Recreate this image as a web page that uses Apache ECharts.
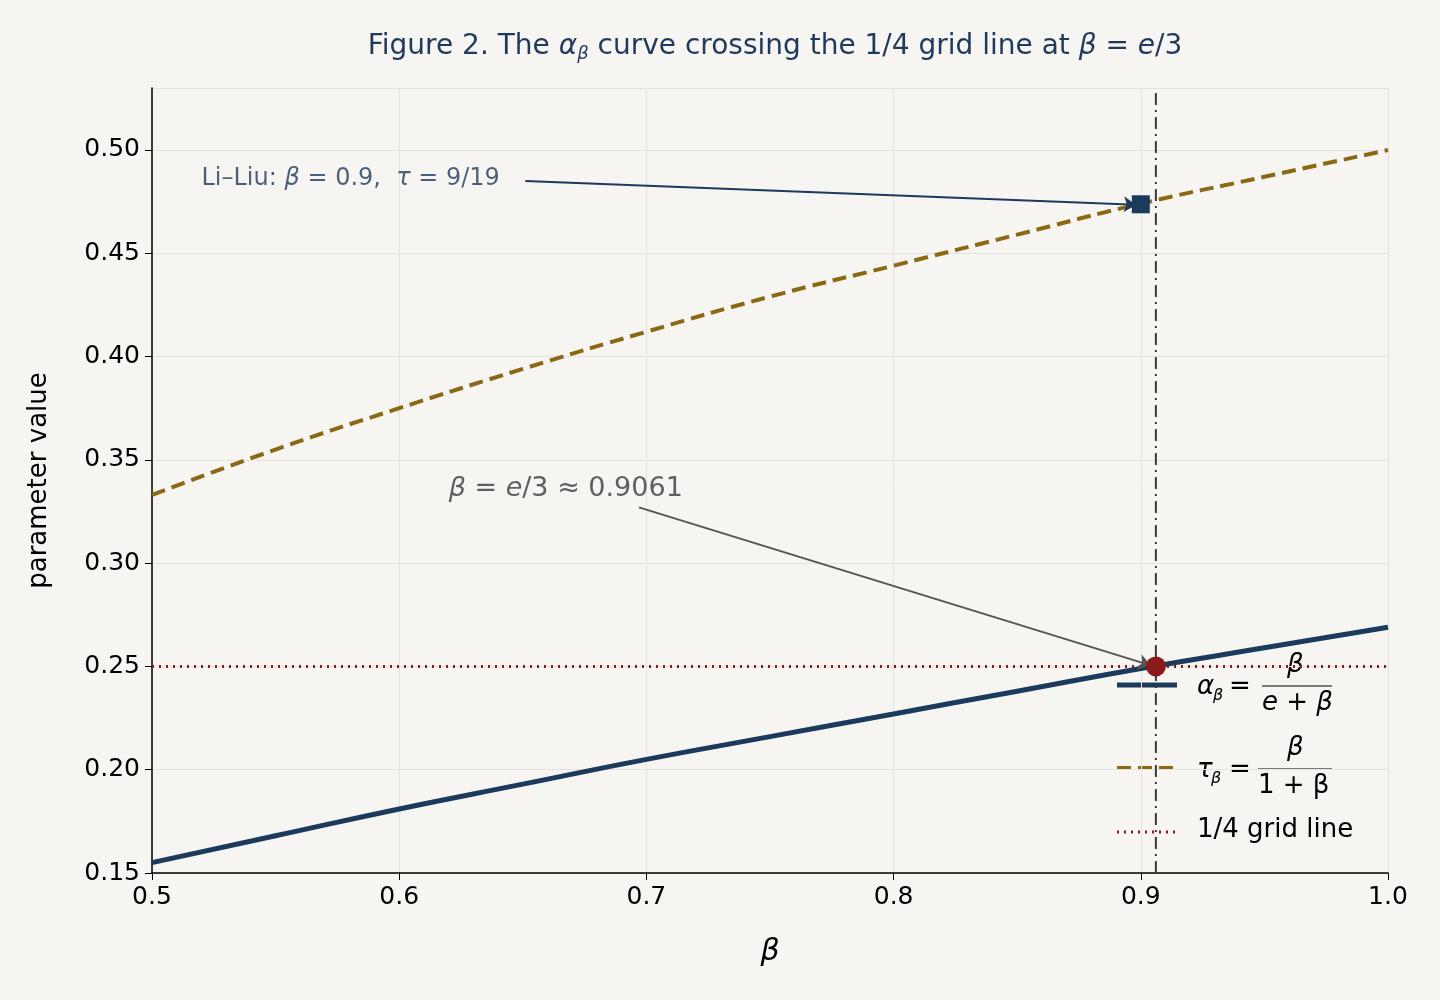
<!DOCTYPE html>
<html><head><meta charset="utf-8">
<script src="https://cdn.jsdelivr.net/npm/echarts@6/dist/echarts.min.js"></script>
<style>html,body{margin:0;background:#f6f5f2}#c{width:1440px;height:1000px}</style>
</head><body><div id="c"></div>
<script>
const betaValues = [0.5,0.55,0.6,0.65,0.7,0.75,0.8,0.85,0.9,0.95,1.0];
const alphaValues = [0.155,0.168,0.181,0.193,0.205,0.216,0.227,0.238,0.249,0.259,0.269];
const tauValues = [0.333,0.355,0.375,0.394,0.412,0.429,0.444,0.459,0.474,0.487,0.500];
const gridLineValue = 0.25;
const crossBeta = 0.9061;
const liLiuPoint = [0.9, 0.4737];
const crossPoint = [0.9061, 0.25];
const liLiuText = [0.52, 0.486];
const crossText = [0.62, 0.336];
const liLiuArrow = [[0.651, 0.485],[0.898, 0.4735]];
const crossArrow = [[0.697, 0.327],[0.904, 0.2505]];
const vLineY = [0.15, 0.53];

const NAVY='#1b3a5c', GOLD='#8b6914', RED='#8b1a1a', F='DejaVu Sans';
const ch = echarts.init(document.getElementById('c'));
ch.setOption({
  backgroundColor:'#f6f5f2',
  animation:false,
  title:{text:'Figure 2. The {i|α}{s|β} curve crossing the 1/4 grid line at {i|β} = {i|e}/3',left:770,top:26,textAlign:'center',
    textStyle:{fontFamily:F,fontSize:28,fontWeight:'normal',color:'#1f3a5a',
      rich:{i:{fontFamily:F,fontStyle:'italic',fontSize:28,color:'#1f3a5a'},s:{fontFamily:F,fontStyle:'italic',fontSize:18,color:'#1f3a5a',verticalAlign:'bottom',padding:[14,0,0,0]}}}},
  grid:{left:152,right:52,top:88,bottom:127},
  xAxis:{type:'value',min:0.5,max:1.0,interval:0.1,name:'β',nameLocation:'middle',nameGap:64,
    nameTextStyle:{fontFamily:F,fontStyle:'italic',fontSize:30,color:'#000'},
    axisLine:{lineStyle:{color:'#000',width:1.5}},axisTick:{length:7,lineStyle:{color:'#000'}},
    axisLabel:{fontFamily:F,fontSize:25,color:'#000',margin:12,formatter:v=>v.toFixed(1)},
    splitLine:{show:true,lineStyle:{color:'#e4e2de',width:1}}},
  yAxis:{type:'value',min:0.15,max:0.53,interval:0.05,name:'parameter value',nameLocation:'middle',nameGap:100,
    nameTextStyle:{fontFamily:F,fontSize:26,color:'#000'},
    axisLine:{show:true,lineStyle:{color:'#000',width:1.5}},axisTick:{show:true,length:7,lineStyle:{color:'#000'}},
    axisLabel:{fontFamily:F,fontSize:25,color:'#000',margin:12,showMaxLabel:false,formatter:v=>v.toFixed(2)},
    splitLine:{show:true,lineStyle:{color:'#e4e2de',width:1}}},
  series:[
    {type:'line',data:betaValues.map(b=>[b,gridLineValue]),symbol:'none',lineStyle:{color:RED,width:3,type:[2,5]},z:2},
    {type:'line',data:vLineY.map(y=>[crossBeta,y]),symbol:'none',lineStyle:{color:'#3a3a3a',width:2,type:[12,5,2,5]},z:2},
    {type:'line',data:betaValues.map((b,i)=>[b,tauValues[i]]),symbol:'none',smooth:true,lineStyle:{color:GOLD,width:4,type:[14,7]},z:3},
    {type:'line',data:betaValues.map((b,i)=>[b,alphaValues[i]]),symbol:'none',smooth:true,lineStyle:{color:NAVY,width:5},z:3},
    {type:'lines',coordinateSystem:'cartesian2d',z:4,symbol:['none','arrow'],symbolSize:12,
      data:[{coords:liLiuArrow,lineStyle:{color:NAVY,width:2,opacity:1}},{coords:crossArrow,lineStyle:{color:'#555',width:2,opacity:1}}]},
    {type:'scatter',data:[liLiuPoint],symbol:'rect',symbolSize:18,itemStyle:{color:NAVY,opacity:1},z:5},
    {type:'scatter',data:[crossPoint],symbol:'circle',symbolSize:20,itemStyle:{color:RED,opacity:1},z:5},
    {type:'scatter',symbolSize:0,z:6,data:[
      {value:liLiuText,label:{show:true,position:'right',distance:0,fontFamily:F,fontSize:24,color:'#1f3a5a',
        formatter:'Li–Liu: {i|β} = 0.9,  {i|τ} = 9/19',rich:{i:{fontFamily:F,fontStyle:'italic',fontSize:24,color:'#1f3a5a'}}}},
      {value:crossText,label:{show:true,position:'right',distance:0,fontFamily:F,fontSize:27,color:'#3a3a3a',
        formatter:'{i|β} = {i|e}/3 ≈ 0.9061',rich:{i:{fontFamily:F,fontStyle:'italic',fontSize:27,color:'#3a3a3a'}}}}
    ]}
  ],
  graphic:[
    {type:'line',shape:{x1:1117,y1:685,x2:1177,y2:685},style:{stroke:NAVY,lineWidth:5}},
    {type:'text',x:1197,y:674,style:{text:'α',font:'italic 26px DejaVu Sans',fill:'#000'}},
    {type:'text',x:1213,y:688,style:{text:'β',font:'italic 16px DejaVu Sans',fill:'#000'}},
    {type:'text',x:1229,y:674,style:{text:'=',font:'26px DejaVu Sans',fill:'#000'}},
    {type:'text',x:1287,y:652,style:{text:'β',font:'italic 26px DejaVu Sans',fill:'#000'}},
    {type:'line',shape:{x1:1262,y1:686,x2:1332,y2:686},style:{stroke:'#000',lineWidth:1.2}},
    {type:'text',x:1262,y:690,style:{text:'e + β',font:'italic 26px DejaVu Sans',fill:'#000'}},
    {type:'line',shape:{x1:1117,y1:768,x2:1177,y2:768},style:{stroke:GOLD,lineWidth:4,lineDash:[14,7]}},
    {type:'text',x:1197,y:757,style:{text:'τ',font:'italic 26px DejaVu Sans',fill:'#000'}},
    {type:'text',x:1211,y:771,style:{text:'β',font:'italic 16px DejaVu Sans',fill:'#000'}},
    {type:'text',x:1229,y:757,style:{text:'=',font:'26px DejaVu Sans',fill:'#000'}},
    {type:'text',x:1287,y:735,style:{text:'β',font:'italic 26px DejaVu Sans',fill:'#000'}},
    {type:'line',shape:{x1:1258,y1:769,x2:1332,y2:769},style:{stroke:'#000',lineWidth:1.2}},
    {type:'text',x:1258,y:773,style:{text:'1 + β',font:'26px DejaVu Sans',fill:'#000'}},
    {type:'line',shape:{x1:1117,y1:832,x2:1177,y2:832},style:{stroke:RED,lineWidth:3,lineDash:[2,5]}},
    {type:'text',x:1197,y:817,style:{text:'1/4 grid line',font:'26px DejaVu Sans',fill:'#000'}}
  ]
});
</script></body></html>
